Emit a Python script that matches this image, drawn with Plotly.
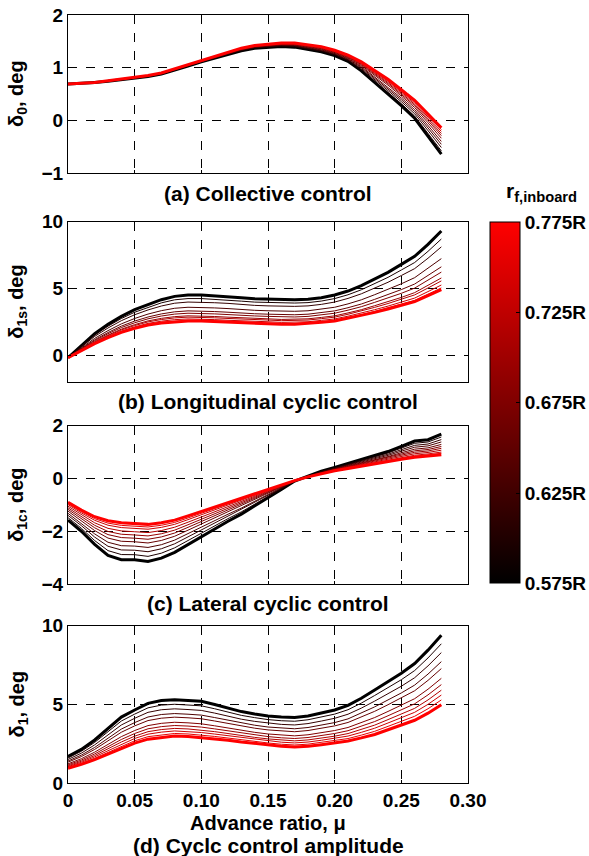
import plotly.graph_objects as go

# advance ratio
mu = [round(0.01 * i, 2) for i in range(29)]

# inboard flap radius of each line (fraction of R)
r_inboard = [0.575, 0.595, 0.615, 0.635, 0.655, 0.675, 0.695, 0.715, 0.735, 0.755, 0.775]

# (a) collective, extreme curves
d0_black = [0.69, 0.70, 0.72, 0.74, 0.77, 0.80, 0.83, 0.88, 0.95, 1.03, 1.11, 1.18, 1.25, 1.32, 1.37,
            1.39, 1.40, 1.39, 1.35, 1.30, 1.23, 1.12, 0.94, 0.72, 0.50, 0.28, 0.04, -0.30, -0.64]
d0_red = [0.69, 0.70, 0.72, 0.75, 0.78, 0.81, 0.85, 0.90, 0.98, 1.06, 1.14, 1.22, 1.30, 1.37, 1.42,
          1.45, 1.47, 1.47, 1.44, 1.40, 1.33, 1.24, 1.11, 0.94, 0.78, 0.58, 0.38, 0.12, -0.14]
# (b) longitudinal cyclic
d1s_black = [-0.2, 0.7, 1.6, 2.3, 2.9, 3.4, 3.8, 4.15, 4.4, 4.5, 4.5, 4.45, 4.4, 4.3, 4.22,
             4.18, 4.15, 4.15, 4.18, 4.3, 4.5, 4.8, 5.2, 5.7, 6.2, 6.8, 7.4, 8.3, 9.3]
d1s_red = [-0.2, 0.35, 0.85, 1.3, 1.7, 2.0, 2.25, 2.4, 2.5, 2.55, 2.55, 2.5, 2.45, 2.4, 2.38,
           2.35, 2.3, 2.3, 2.35, 2.45, 2.55, 2.75, 2.95, 3.2, 3.45, 3.7, 4.0, 4.45, 4.9]
# (c) lateral cyclic
d1c_black = [-1.58, -2.0, -2.5, -2.92, -3.08, -3.08, -3.15, -3.02, -2.8, -2.5, -2.2, -1.92, -1.62, -1.35, -1.05,
             -0.75, -0.42, -0.1, 0.1, 0.28, 0.42, 0.57, 0.72, 0.86, 1.02, 1.22, 1.42, 1.47, 1.68]
d1c_red = [-0.9, -1.2, -1.45, -1.6, -1.68, -1.72, -1.74, -1.68, -1.58, -1.42, -1.25, -1.08, -0.92, -0.75, -0.58,
           -0.41, -0.25, -0.08, 0.06, 0.18, 0.29, 0.38, 0.47, 0.55, 0.64, 0.73, 0.8, 0.85, 0.9]
# (d) cyclic amplitude
d1_black = [1.7, 2.15, 2.75, 3.5, 4.2, 4.65, 5.07, 5.25, 5.3, 5.25, 5.2, 5.0, 4.77, 4.55, 4.4,
            4.27, 4.2, 4.17, 4.27, 4.45, 4.65, 4.95, 5.4, 5.92, 6.45, 6.98, 7.6, 8.45, 9.4]
d1_red = [0.95, 1.2, 1.5, 1.85, 2.2, 2.55, 2.8, 2.92, 3.0, 2.97, 2.9, 2.82, 2.73, 2.62, 2.52,
          2.43, 2.35, 2.3, 2.35, 2.45, 2.55, 2.68, 2.88, 3.1, 3.4, 3.7, 4.0, 4.45, 4.98]

pos_a = [0, 0.12, 0.25, 0.37, 0.48, 0.6, 0.7, 0.78, 0.86, 0.93, 1]
pos_b = [0, 0.136, 0.27, 0.47, 0.61, 0.70, 0.80, 0.85, 0.92, 0.97, 1]
pos_c = [0, 0.14, 0.265, 0.38, 0.5, 0.6, 0.69, 0.78, 0.87, 0.93, 1]
pos_d = [0, 0.124, 0.25, 0.38, 0.48, 0.62, 0.71, 0.79, 0.86, 0.93, 1]

panels = [
    (d0_black, d0_red, pos_a, "δ<sub>0</sub>, deg", [-1, 2], [-1, 0, 1, 2], "(a) Collective control"),
    (d1s_black, d1s_red, pos_b, "δ<sub>1s</sub>, deg", [-2, 10], [0, 5, 10], "(b) Longitudinal cyclic control"),
    (d1c_black, d1c_red, pos_c, "δ<sub>1c</sub>, deg", [-4, 2], [-4, -2, 0, 2], "(c) Lateral cyclic control"),
    (d1_black, d1_red, pos_d, "δ<sub>1</sub>, deg", [0, 10], [0, 5, 10], "(d) Cyclc control amplitude"),
]

W, H = 589, 856
plot_px = [(15, 173), (221.7, 381.7), (425.7, 584), (625.7, 783.3)]
x0, x1 = 68, 468
FONT = "Liberation Sans, Arial, sans-serif"
TICK = 19
TITLE = 21

fig = go.Figure()
annotations = []
for k, (blk, red, pos, ylab, yr, ytv, title) in enumerate(panels):
    xa = "x" if k == 0 else f"x{k+1}"
    ya = "y" if k == 0 else f"y{k+1}"
    n = len(r_inboard)
    for i in range(n):
        p = pos[i]
        t = (r_inboard[i] - r_inboard[0]) / (r_inboard[-1] - r_inboard[0])
        ys = [b + (r - b) * p for b, r in zip(blk, red)]
        col = f"rgb({round(255*t)},0,0)"
        width = 3 if i in (0, n - 1) else 1
        fig.add_trace(go.Scatter(x=mu, y=ys, mode="lines", line=dict(color=col, width=width),
                                 xaxis=xa, yaxis=ya, showlegend=False, hoverinfo="skip"))
    top, bot = plot_px[k]
    dom = [1 - bot / H, 1 - top / H]
    axkey = "xaxis" if k == 0 else f"xaxis{k+1}"
    aykey = "yaxis" if k == 0 else f"yaxis{k+1}"
    fig.update_layout(**{
        axkey: dict(domain=[x0 / W, x1 / W], range=[0, 0.3], anchor=ya,
                    tickvals=[0, 0.05, 0.10, 0.15, 0.20, 0.25, 0.30],
                    ticktext=["0", "0.05", "0.10", "0.15", "0.20", "0.25", "0.30"],
                    showticklabels=(k == 3), showgrid=True, gridcolor="black", griddash="dash",
                    gridwidth=1, showline=True, linecolor="black", linewidth=1, mirror=True,
                    zeroline=False, ticks="inside", ticklen=3, tickcolor="black", automargin=False,
                    tickfont=dict(family=FONT, size=TICK, color="black", weight="bold")),
        aykey: dict(domain=dom, range=yr, anchor=xa, tickvals=ytv,
                    showgrid=True, gridcolor="black", griddash="dash", gridwidth=1,
                    showline=True, linecolor="black", linewidth=1, mirror=True,
                    zeroline=False, ticks="inside", ticklen=3, tickcolor="black", automargin=False,
                    tickfont=dict(family=FONT, size=TICK, color="black", weight="bold")),
    })
    annotations.append(dict(text=ylab, x=18 / W, y=1 - (top + bot) / 2 / H, xref="paper", yref="paper",
                            textangle=-90, showarrow=False, xanchor="center", yanchor="middle",
                            font=dict(family=FONT, size=20, color="black", weight="bold")))

title_y = [193, 401.7, 603, 845]
for k, ty in enumerate(title_y):
    annotations.append(dict(text=panels[k][6], x=(x0 + x1) / 2 / W, y=1 - ty / H, xref="paper", yref="paper",
                            showarrow=False, xanchor="center", yanchor="middle",
                            font=dict(family=FONT, size=TITLE, color="black", weight="bold")))
annotations.append(dict(text="Advance ratio, μ", x=(x0 + x1) / 2 / W, y=1 - 823 / H, xref="paper", yref="paper",
                        showarrow=False, xanchor="center", yanchor="middle",
                        font=dict(family=FONT, size=20, color="black", weight="bold")))
annotations.append(dict(text="r<sub>f,inboard</sub>", x=541 / W, y=1 - 192 / H, xref="paper", yref="paper",
                        showarrow=False, xanchor="center", yanchor="middle",
                        font=dict(family=FONT, size=21, color="black", weight="bold")))

# colour bar
cb_tick = [0.575, 0.625, 0.675, 0.725, 0.775]
fig.add_trace(go.Scatter(
    x=[None], y=[None], mode="markers", showlegend=False, hoverinfo="skip",
    marker=dict(color=[r_inboard[0]], cmin=r_inboard[0], cmax=r_inboard[-1],
                colorscale=[[0, "rgb(0,0,0)"], [1, "rgb(255,0,0)"]], showscale=True,
                colorbar=dict(x=490 / W, xanchor="left", xref="paper", y=1 - 402.8 / H, yanchor="middle",
                              len=361 / H, lenmode="fraction", thickness=30, thicknessmode="pixels",
                              outlinecolor="black", outlinewidth=1, xpad=0, ypad=0,
                              tickvals=cb_tick, ticktext=[f"{v:.3f}R" for v in cb_tick],
                              ticks="inside", ticklen=4, tickcolor="black",
                              tickfont=dict(family=FONT, size=19, color="black", weight="bold"))),
))

fig.update_layout(width=W, height=H, margin=dict(l=0, r=0, t=0, b=0, autoexpand=False),
                  paper_bgcolor="white", plot_bgcolor="white", annotations=annotations)
fig.write_html("out.html")
